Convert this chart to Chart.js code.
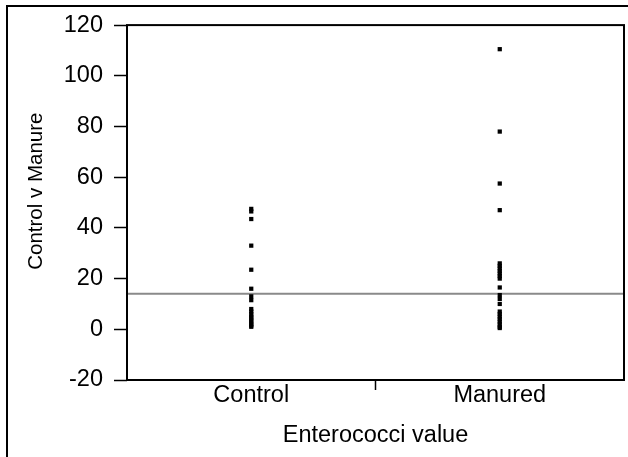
<!DOCTYPE html>
<html>
<head>
<meta charset="utf-8">
<script src="https://cdn.jsdelivr.net/npm/chart.js@4"></script>
<style>
  html, body { margin: 0; padding: 0; background: #fff; overflow: hidden; }
  #wrap { position: relative; width: 628px; height: 457px; overflow: hidden; }
  #frame { position: absolute; left: 6px; top: 5px; width: 640px; height: 470px;
           border-left: 2px solid #000; border-top: 2px solid #000; }
  #chart { position: absolute; left: 0; top: 0; }
</style>
</head>
<body>
<div id="wrap">
  <div id="frame"></div>
  <canvas id="chart" width="628" height="457"></canvas>
</div>
<script>
const groups = ["Control", "Manured"];
const controlValues = [47.5, 46.5, 43.5, 33, 23.5, 16, 13, 11.5, 8, 7, 6, 5, 4.5, 3.5, 3, 2, 1.5, 1];
const manuredValues = [110.5, 78, 57.5, 47, 26, 25, 24, 23, 22, 21, 20, 16.5, 13.5, 12, 10, 7, 6, 5, 4, 3, 2, 1, 0.5];
const yTicks = [-20, 0, 20, 40, 60, 80, 100, 120];
const cutoff = 14;

const FAMILY = "'Liberation Sans', Arial, sans-serif";
const FONT = { family: FAMILY, size: 23.5 };
const TITLE_FONT = { family: FAMILY, size: 20.5 };

// groups sit at 0.5 and 1.5 on a 0..2 axis, split tick at 1
const groupPos = (i) => i + 0.5;

const plotBox = {
  id: "plotBox",
  afterDraw(chart) {
    const { ctx, chartArea: a } = chart;
    ctx.save();
    ctx.strokeStyle = "#000";
    ctx.lineWidth = 2;
    ctx.strokeRect(a.left, a.top, a.right - a.left, a.bottom - a.top);
    ctx.restore();
  },
};

new Chart(document.getElementById("chart"), {
  type: "scatter",
  data: {
    datasets: [
      {
        type: "line",
        data: [{ x: 0, y: cutoff }, { x: groups.length, y: cutoff }],
        borderColor: "#8a8a8a",
        borderWidth: 2,
        pointRadius: 0,
        order: 2,
      },
      {
        data: controlValues.map((v) => ({ x: groupPos(0), y: v })),
        pointStyle: "rect",
        pointRadius: 3,
        borderWidth: 0,
        backgroundColor: "#000",
        order: 1,
      },
      {
        data: manuredValues.map((v) => ({ x: groupPos(1), y: v })),
        pointStyle: "rect",
        pointRadius: 3,
        borderWidth: 0,
        backgroundColor: "#000",
        order: 1,
      },
    ],
  },
  options: {
    responsive: false,
    animation: false,
    layout: { padding: { left: 24, top: 22, right: 4, bottom: 0 } },
    plugins: { legend: { display: false }, tooltip: { enabled: false } },
    scales: {
      x: {
        type: "linear",
        min: 0,
        max: groups.length,
        afterFit: (s) => { s.height = 77; },
        afterBuildTicks: (s) => {
          s.ticks = [0.5, 1, 1.5].map((v) => ({ value: v }));
        },
        ticks: {
          autoSkip: false,
          maxRotation: 0,
          color: "#000",
          font: FONT,
          padding: -9,
          callback: (v) => (v === 1 ? "" : groups[Math.floor(v)]),
        },
        grid: {
          drawOnChartArea: false,
          tickLength: 10,
          tickWidth: 1.5,
          tickColor: (c) => (c.tick && c.tick.value === 1 ? "#000" : "rgba(0,0,0,0)"),
        },
        border: { display: false },
        title: { display: true, text: "Enterococci value", color: "#000", font: FONT, padding: { top: 8, bottom: 7 } },
      },
      y: {
        min: yTicks[0],
        max: yTicks[yTicks.length - 1],
        afterFit: (s) => { s.width = 103; },
        afterBuildTicks: (s) => { s.ticks = yTicks.map((v) => ({ value: v })); },
        ticks: { color: "#000", font: FONT, padding: 11 },
        grid: { drawOnChartArea: false, tickLength: 13, tickWidth: 1.5, tickColor: "#000" },
        border: { display: false },
        // leading spaces lift the label a little above the axis middle
        title: { display: true, text: "    Control v Manure", color: "#000", font: TITLE_FONT, padding: { top: 0, bottom: 0 } },
      },
    },
  },
  plugins: [plotBox],
});
</script>
</body>
</html>
